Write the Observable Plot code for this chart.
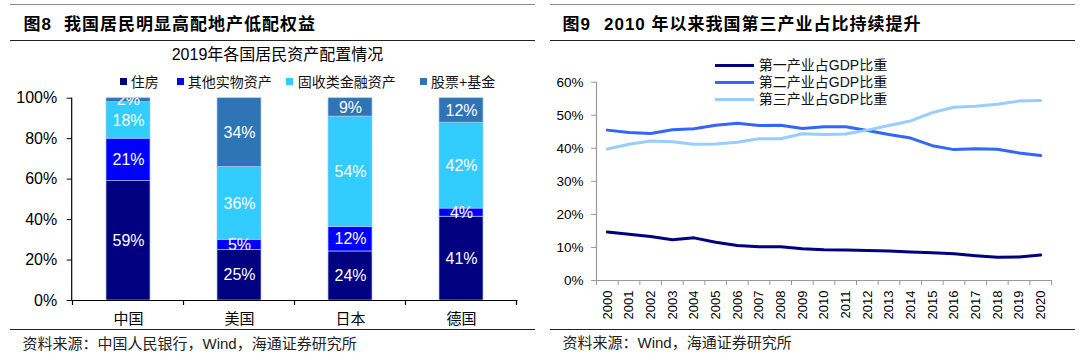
<!DOCTYPE html>
<html><head><meta charset="utf-8">
<script src="https://cdn.jsdelivr.net/npm/d3@7"></script>
<script src="https://cdn.jsdelivr.net/npm/@observablehq/plot@0.6"></script>
<style>
body{margin:0;background:#fff;}
#root{position:relative;width:1080px;height:362px;overflow:hidden;font-family:"Liberation Sans","Noto Sans CJK SC",sans-serif;color:#000;background:#fff;}
.abs{position:absolute;white-space:nowrap;line-height:1;transform:translateY(-50%);}
.rule{position:absolute;height:0;}
.title{font-weight:bold;font-size:17px;letter-spacing:1px;}
.src{font-size:15px;color:#222;}
.sw{position:absolute;width:7px;height:7px;}
.lg{font-size:14px;color:#111;}
.lline{position:absolute;height:3px;}
svg{position:absolute;}
</style></head><body><div id="root"></div>
<script>
// ---------- data: left chart ----------
const countries = ["中国", "美国", "日本", "德国"];
const assetTypes = ["住房", "其他实物资产", "固收类金融资产", "股票+基金"];
const housing = [59, 25, 24, 41];
const otherReal = [21, 5, 12, 4];
const fixedIncome = [18, 36, 54, 42];
const equity = [2, 34, 9, 12];
const assetColors = ["#000080", "#0000FF", "#33CCFF", "#2F75B5"];
const leftTicks = [0, 0.2, 0.4, 0.6, 0.8, 1];

// ---------- data: right chart ----------
const years = [2000,2001,2002,2003,2004,2005,2006,2007,2008,2009,2010,2011,2012,2013,2014,2015,2016,2017,2018,2019,2020];
const primary = [14.7,14.0,13.3,12.3,12.9,11.6,10.6,10.2,10.2,9.6,9.3,9.2,9.1,8.9,8.6,8.4,8.1,7.5,7.0,7.1,7.7];
const secondary = [45.5,44.8,44.5,45.6,45.9,47.0,47.6,46.9,47.0,46.0,46.5,46.5,45.4,44.2,43.1,40.8,39.6,39.9,39.7,38.6,37.8];
const tertiary = [39.8,41.2,42.2,42.0,41.2,41.3,41.8,42.9,42.9,44.4,44.2,44.3,45.5,46.9,48.3,50.8,52.4,52.7,53.3,54.3,54.5];
const seriesNames = ["第一产业占GDP比重", "第二产业占GDP比重", "第三产业占GDP比重"];
const lineColors = ["#000080", "#3366FF", "#99CCFF"];
const rightTicks = [0, 0.1, 0.2, 0.3, 0.4, 0.5, 0.6];

const root = document.getElementById("root");
function addText(txt, x, y, cls, extra) {
  const d = document.createElement("div");
  d.className = "abs " + cls;
  d.style.left = x + "px"; d.style.top = y + "px";
  if (extra) Object.assign(d.style, extra);
  d.textContent = txt; root.appendChild(d); return d;
}
function addRule(x1, x2, y, color, w) {
  const d = document.createElement("div");
  d.className = "rule";
  d.style.left = x1 + "px"; d.style.width = (x2 - x1) + "px"; d.style.top = (y - w / 2) + "px";
  d.style.borderTop = w + "px solid " + color; root.appendChild(d);
}

// rules
addRule(9.7, 535, 5, "#8c8c8c", 1.5);
addRule(9.7, 535, 40.5, "#222", 1.3);
addRule(9.7, 535, 330, "#222", 1.3);
addRule(549.7, 1075, 5, "#8c8c8c", 1.5);
addRule(549.7, 1075, 40.5, "#222", 1.3);
addRule(549.7, 1075, 330, "#222", 1.3);

// titles
addText("图8", 23.5, 24, "title");
addText("我国居民明显高配地产低配权益", 64, 24, "title");
addText("图9", 562.5, 24, "title");
addText("2010 年以来我国第三产业占比持续提升", 604, 24, "title");

// sources
addText("资料来源：中国人民银行，Wind，海通证券研究所", 22.5, 343, "src");
addText("资料来源：Wind，海通证券研究所", 562.5, 342, "src");

// left chart title and legend
addText("2019年各国居民资产配置情况", 277.5, 55, "", {fontSize: "16px", transform: "translate(-50%,-50%)"});
const legendPos = [[120, 130.7], [176.7, 187.7], [285.5, 297.7], [419.5, 431]];
assetTypes.forEach((t, i) => {
  const s = document.createElement("div");
  s.className = "sw"; s.style.left = legendPos[i][0] + "px"; s.style.top = "78px";
  s.style.background = assetColors[i]; root.appendChild(s);
  addText(t, legendPos[i][1], 81.5, "lg");
});

// right legend
seriesNames.forEach((n, i) => {
  const y = [65, 82, 99][i];
  const l = document.createElement("div");
  l.className = "lline"; l.style.left = "714.8px"; l.style.width = "39px";
  l.style.top = (y - 1.5) + "px"; l.style.background = lineColors[i]; root.appendChild(l);
  addText(n, 758.8, y, "lg");
});

// ---------- left plot ----------
const assetData = [];
const assetSeries = [housing, otherReal, fixedIncome, equity];
countries.forEach((c, i) => {
  assetSeries.forEach((arr, j) => assetData.push({country: c, type: assetTypes[j], value: arr[i]}));
});

const left = Plot.plot({
  width: 540, height: 240,
  marginTop: 7.7, marginBottom: 30, marginLeft: 71.7, marginRight: 22.5,
  style: {fontFamily: "'Liberation Sans', Arial, sans-serif", fontSize: "16px", color: "#000", background: "transparent", overflow: "visible"},
  x: {domain: countries, paddingInner: 0.6, paddingOuter: 0.3, axis: null},
  y: {domain: [0, 1], axis: null},
  color: {domain: assetTypes, range: assetColors},
  marks: [
    Plot.barY(assetData, Plot.stackY({x: "country", y: "value", fill: "type", offset: "normalize", stroke: "#a8c8f0", strokeWidth: 0.7})),
    Plot.text(assetData, Plot.stackY({x: "country", y: "value", text: d => d.value + "%", offset: "normalize", fill: "white", fontSize: 16, clip: true})),
    Plot.ruleY([0], {stroke: "#000", strokeWidth: 1.2}),
    Plot.axisY(leftTicks, {tickFormat: d3.format(".0%"), tickSize: 5, tickPadding: 10, fontSize: 16, stroke: "#000", fill: "#000", label: null}),
    Plot.axisX({tickSize: 0, tickPadding: 13, fontSize: 15, fontFamily: "'Noto Sans CJK SC', sans-serif", fill: "#000", label: null})
  ]
});
left.style.left = "0px"; left.style.top = "90px";
root.appendChild(left);
{
  const sx = left.scale("x"), sy = left.scale("y");
  const svg = d3.select(left);
  const start = sx.apply(countries[0]) - (sx.step - sx.bandwidth) / 2;
  const y0 = sy.apply(0), y1 = sy.apply(1);
  svg.append("line").attr("x1", sx.range[0]).attr("x2", sx.range[0]).attr("y1", y0).attr("y2", y1).attr("stroke", "#000").attr("stroke-width", 1.2);
  for (let i = 0; i <= countries.length; i++) {
    const x = start + i * sx.step;
    svg.append("line").attr("x1", x).attr("x2", x).attr("y1", y0).attr("y2", y0 + 5).attr("stroke", "#000").attr("stroke-width", 1.2);
  }
}

// ---------- right plot ----------
const lineData = [];
[primary, secondary, tertiary].forEach((arr, j) => years.forEach((yr, i) => lineData.push({year: yr, value: arr[i] / 100, series: seriesNames[j]})));
const yearBounds = years.map(y => y - 0.5).concat([years[years.length - 1] + 0.5]);

const right = Plot.plot({
  width: 540, height: 290,
  marginTop: 41.7, marginBottom: 50, marginLeft: 56, marginRight: 29,
  style: {fontFamily: "'Liberation Sans', Arial, sans-serif", fontSize: "13.5px", color: "#000", background: "transparent", overflow: "visible"},
  x: {domain: [yearBounds[0], yearBounds[yearBounds.length - 1]], axis: null},
  y: {domain: [0, 0.6], axis: null},
  color: {domain: seriesNames, range: lineColors},
  marks: [
    Plot.ruleY([0], {stroke: "#999", strokeWidth: 1.2}),
    Plot.ruleX([yearBounds[0]], {stroke: "#999", strokeWidth: 1.2}),
    Plot.axisY(rightTicks, {tickFormat: d3.format(".0%"), tickSize: 5, tickPadding: 8, fontSize: 13.5, stroke: "#999", fill: "#000", label: null}),
    Plot.axisX(yearBounds, {tickSize: 5, tickFormat: () => "", stroke: "#999", label: null}),
    Plot.axisX(years, {tickSize: 0, tickPadding: 10, tickRotate: -90, tickFormat: d => String(d), fontSize: 13, fill: "#000", label: null}),
    Plot.line(lineData, {x: "year", y: "value", stroke: "series", strokeWidth: 3, strokeLinejoin: "round"})
  ]
});
right.style.left = "540px"; right.style.top = "40px";
root.appendChild(right);
</script>
</body></html>
